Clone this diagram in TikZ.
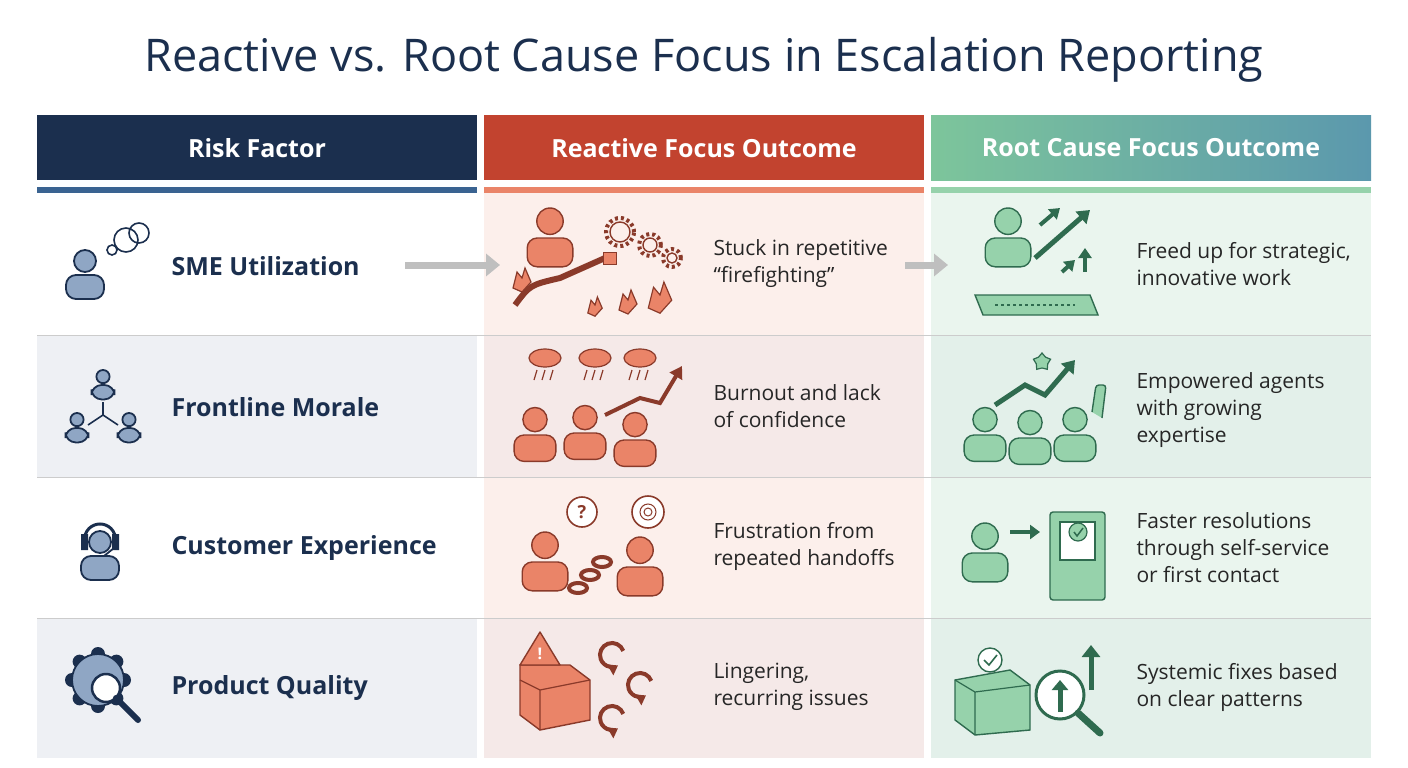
\documentclass[tikz,border=0pt]{standalone}
\usepackage{fontspec}
\setmainfont{Open Sans}
\usetikzlibrary{arrows.meta,shapes.geometric}
\definecolor{navy}{HTML}{1B2F4E}
\definecolor{hred}{HTML}{C2432F}
\definecolor{gL}{HTML}{7DC59B}
\definecolor{gR}{HTML}{5B98AD}
\definecolor{ofill}{HTML}{EA8468}
\definecolor{ostroke}{HTML}{8A3A2A}
\definecolor{gfill}{HTML}{96D2AB}
\definecolor{gstroke}{HTML}{2F6B4F}
\definecolor{ifill}{HTML}{8FA6C4}
\definecolor{rowgrey}{HTML}{EEF0F4}
\definecolor{pink}{HTML}{FCEFEB}
\definecolor{pinkg}{HTML}{F5E9E8}
\definecolor{mint}{HTML}{EAF5EE}
\definecolor{mintg}{HTML}{E3F0EA}
\definecolor{uline}{HTML}{3A6391}
\tikzset{
  hdr/.style={font=\bfseries\fontsize{25}{30}\selectfont,text=white},
  lbl/.style={font=\bfseries\fontsize{25}{30}\selectfont,text=navy,anchor=west},
  desc/.style={font=\fontsize{21}{27}\selectfont,text=black!85,anchor=west,align=left},
  person/.pic={\draw[pic actions] (0,-14) circle [radius=11pt];
    \draw[pic actions,rounded corners=10] (-19,24) -- (-19,0) -- (19,0) -- (19,24) -- cycle;},
  oline/.style={draw=ostroke,fill=ofill,line width=1.4},
  gline/.style={draw=gstroke,fill=gfill,line width=1.4},
  nline/.style={draw=navy,fill=ifill,line width=1.8},
  flame/.style={draw=ostroke,fill=ofill,line width=1.2},
}
\begin{document}
\begin{tikzpicture}[x=1pt,y=-1pt]
\useasboundingbox (0,0) rectangle (1408,768);
\fill[white] (0,0) rectangle (1408,768);
\node[font=\fontsize{45}{52}\selectfont,text=navy] (title) at (704,60) {Reactive vs. Root Cause Focus in Escalation Reporting};
% backgrounds
\fill[rowgrey] (37,335) rectangle (477,477);
\fill[rowgrey] (37,618) rectangle (477,758);
\fill[pink] (484,193) rectangle (924,758);
\fill[pinkg] (484,335) rectangle (924,477);
\fill[pinkg] (484,618) rectangle (924,758);
\fill[mint] (931,193) rectangle (1371,758);
\fill[mintg] (931,335) rectangle (1371,477);
\fill[mintg] (931,618) rectangle (1371,758);
\foreach \y in {335,477,618} \draw[black!20,line width=1] (37,\y) -- (1371,\y);
% headers
\fill[navy] (37,115) rectangle (477,180);
\fill[hred] (484,115) rectangle (924,180);
\shade[left color=gL,right color=gR] (931,115) rectangle (1371,180);
\fill[uline] (37,187) rectangle (477,193);
\fill[ofill] (484,187) rectangle (924,193);
\fill[gfill] (931,187) rectangle (1371,193);
\node[hdr] (h1) at (257,148) {Risk Factor};
\node[hdr] (h2) at (704,148) {Reactive Focus Outcome};
\node[hdr] (h3) at (1151,148) {Root Cause Focus Outcome};
% labels
\node[lbl] (l1) at (168,266) {SME Utilization};
\node[lbl] (l2) at (168,407) {Frontline Morale};
\node[lbl] (l3) at (168,548) {Customer Experience};
\node[lbl] (l4) at (168,688) {Product Quality};
\node[desc] (r1) at (710,264) {Stuck in repetitive\\“firefighting”};
\node[desc] (r2) at (710,406) {Burnout and lack\\of confidence};
\node[desc] (r3) at (710,546) {Frustration from\\repeated handoffs};
\node[desc] (r4) at (710,687) {Lingering,\\recurring issues};
\node[desc] (c1) at (1133,264) {Freed up for strategic,\\innovative work};
\node[desc] (c2) at (1133,410) {Empowered agents\\with growing\\expertise};
\node[desc] (c3) at (1133,548) {Faster resolutions\\through self-service\\or first contact};
\node[desc] (c4) at (1133,687) {Systemic fixes based\\on clear patterns};
% row1 arrows
\coordinate (a1s) at (405,265); \coordinate (a1e) at (500,265);
\coordinate (a2s) at (905,265); \coordinate (a2e) at (948,265);
\draw[black!25,line width=7,-{Triangle[length=14,width=22]}] (a1s) -- (a1e);
\draw[black!25,line width=7,-{Triangle[length=14,width=22]}] (a2s) -- (a2e);
% col1 icons
\pic[nline] at (85,275) {person};
\draw[navy,fill=white,line width=1.6] (112,250) circle [radius=5pt] (126,240) circle [radius=12pt] (139,233) circle [radius=10pt];
\pic[nline,scale=0.6] at (103,385) {person};
\pic[nline,scale=0.6] at (77,428) {person};
\pic[nline,scale=0.6] at (129,428) {person};
\draw[navy,line width=1.6] (103,402) -- (103,415) -- (88,425) (103,415) -- (118,425);
\pic[nline] at (100,556) {person};
\draw[navy,line width=3] (84,542) .. controls (84,518) and (116,518) .. (116,542);
\draw[navy,line width=1.8] (114,548) -- (104,556);
\fill[navy] (81,534) rectangle (88,550) (112,534) rectangle (119,550);
\foreach \a in {0,45,...,315} \fill[navy] (98,680) ++(\a:26pt) circle [radius=7pt];
\draw[nline] (98,680) circle [radius=26pt];
\draw[navy,fill=white,line width=2.5] (106,688) circle [radius=14pt];
\draw[navy,line width=6,line cap=round] (116,698) -- (138,720);
% row1 col2
\pic[oline,scale=1.2] at (550,238) {person};
\draw[ostroke,line width=6] (515,305) .. controls (530,285) .. (560,278) -- (605,258);
\draw[ostroke,fill=ofill] (603,252) rectangle (616,264);
\foreach \x/\y/\s in {522/278/1, 628/300/1, 660/295/1.3, 595/305/0.8}
  \draw[flame] (\x,\y+14*\s) -- ++(-9*\s,-4*\s) -- ++(4*\s,-16*\s) -- ++(5*\s,6*\s) -- ++(3*\s,-10*\s) -- ++(6*\s,14*\s) -- cycle;
\foreach \x/\y/\r in {620/232/12, 650/245/9, 672/258/7}
  {\draw[ostroke,line width=4,dash pattern=on 3pt off 3pt] (\x,\y) circle [radius=\r pt+2pt];
   \draw[ostroke,fill=pink,line width=1.4] (\x,\y) circle [radius=\r pt-2pt];}
% row1 col3
\pic[gline,scale=1.2] at (1008,238) {person};
\draw[gline] (975,295) -- (1090,295) -- (1098,315) -- (983,315) -- cycle;
\draw[gstroke,line width=1.2,dashed] (995,305) -- (1075,305);
\draw[gstroke,line width=5,-{Triangle[length=12,width=16]}] (1035,258) -- (1090,210);
\draw[gstroke,line width=4,-{Triangle[length=10,width=13]}] (1040,225) -- (1060,208);
\draw[gstroke,line width=4,-{Triangle[length=10,width=13]}] (1085,272) -- (1085,248);
\draw[gstroke,line width=4,-{Triangle[length=10,width=13]}] (1062,272) -- (1075,260);
% row2 col2
\pic[oline,scale=1.1] at (535,435) {person};
\pic[oline,scale=1.1] at (585,433) {person};
\pic[oline,scale=1.1] at (635,440) {person};
\draw[ostroke,line width=4,-{Triangle[length=12,width=14]}] (605,415) -- (640,398) -- (660,403) -- (682,366);
\foreach \x in {545,595,640} {\draw[flame] (\x,358) ellipse [x radius=16pt,y radius=9pt];
  \foreach \d in {-8,0,8} \draw[ostroke,line width=1.2] (\x+\d,370) -- (\x+\d-3,380);}
% row2 col3
\pic[gline,scale=1.1] at (985,435) {person};
\pic[gline,scale=1.1] at (1030,438) {person};
\pic[gline,scale=1.1] at (1075,435) {person};
\draw[gstroke,line width=5,-{Triangle[length=12,width=16]}] (995,405) -- (1025,385) -- (1045,395) -- (1075,360);
\node[star,star points=5,draw=gstroke,fill=gfill,minimum size=18,inner sep=0,line width=1.2] (st) at (1042,362) {};
\draw[gline,rounded corners=3] (1092,412) -- (1096,385) -- (1106,385) -- (1102,418);
% row3 col2
\pic[oline,scale=1.2] at (545,562) {person};
\draw[ostroke,line width=1.6,fill=white] (582,512) circle [radius=15pt];
\node[text=ostroke,font=\bfseries\fontsize{18}{20}\selectfont] (q) at (582,512) {?};
\draw[ostroke,line width=1.6,fill=white] (648,512) circle [radius=16pt];
\draw[ostroke,line width=1] (648,512) circle [radius=8pt] (648,512) circle [radius=4pt];
\pic[oline,scale=1.2] at (640,567) {person};
\draw[ostroke,line width=4] (578,588) ellipse [x radius=9pt,y radius=5pt] (590,575) ellipse [x radius=9pt,y radius=5pt] (602,562) ellipse [x radius=9pt,y radius=5pt];
% row3 col3
\pic[gline,scale=1.2] at (985,553) {person};
\draw[gstroke,line width=4,-{Triangle[length=10,width=14]}] (1010,532) -- (1040,532);
\draw[gline,rounded corners=3] (1050,512) rectangle (1105,600);
\draw[gstroke,fill=white,line width=1.4] (1060,522) rectangle (1095,560);
\draw[gstroke,fill=gfill,line width=1.2] (1078,532) circle [radius=9pt];
\draw[gstroke,line width=1.5] (1074,532) -- (1077,536) -- (1083,528);
% row4 col2
\draw[oline] (520,665) -- (570,665) -- (590,680) -- (590,720) -- (540,730) -- (520,715) -- cycle;
\draw[ostroke,line width=1.2] (520,680) -- (540,690) -- (590,680) (540,690) -- (540,730);
\draw[ostroke,fill=ofill,line width=1.4,line join=round] (540,632) -- (560,665) -- (520,665) -- cycle;
\node[text=white,font=\bfseries\fontsize{16}{18}\selectfont] (ex) at (540,654) {!};
\foreach \x/\y in {612/655, 640/685, 612/718}
  \draw[ostroke,line width=4,-{Triangle[length=9,width=12]}] (\x,\y) ++(20:12pt) arc [start angle=20,end angle=300,radius=12pt];
% row4 col3
\draw[gline] (955,680) -- (1010,670) -- (1030,685) -- (1030,730) -- (975,735) -- (955,720) -- cycle;
\draw[gstroke,line width=1.2] (955,680) -- (975,692) -- (1030,685) (975,692) -- (975,735);
\draw[gstroke,fill=white,line width=1.4] (990,660) circle [radius=12pt];
\draw[gstroke,line width=1.6] (984,660) -- (989,665) -- (997,655);
\draw[gstroke,fill=white,line width=3] (1060,695) circle [radius=24pt];
\draw[gstroke,line width=7,line cap=round] (1078,713) -- (1100,733);
\draw[gstroke,line width=5,-{Triangle[length=10,width=16]}] (1060,712) -- (1060,680);
\draw[gstroke,line width=5,-{Triangle[length=12,width=18]}] (1091,690) -- (1091,645);
\end{tikzpicture}
\end{document}
